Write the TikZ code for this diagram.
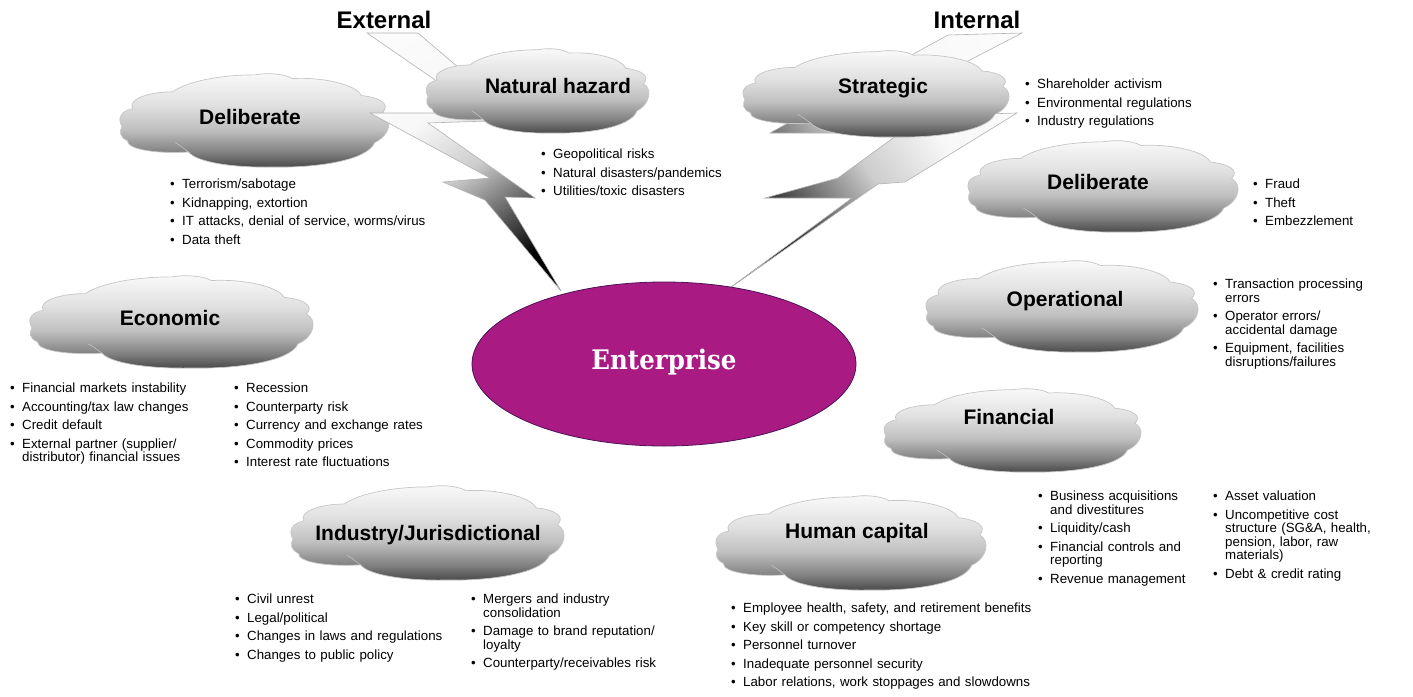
\documentclass[tikz,border=0pt]{standalone}
\usepackage{fontspec}
\setmainfont{Liberation Sans}
\newfontfamily\entfont{DejaVu Serif}
\usepackage{graphicx}
\usetikzlibrary{shapes.geometric}
\definecolor{entfill}{RGB}{169,27,131}
\definecolor{entline}{RGB}{75,18,90}
\definecolor{cloudline}{RGB}{198,198,198}
\pgfdeclareverticalshading{cloudsh}{100bp}{color(0bp)=(black!72); color(25bp)=(black!72); color(33bp)=(black!50); color(45bp)=(black!25); color(58bp)=(black!12); color(75bp)=(black!2); color(100bp)=(black!2)}
\pgfdeclareverticalshading{boltsh}{100bp}{color(0bp)=(black); color(25bp)=(black); color(36bp)=(black!62); color(48bp)=(black!20); color(62bp)=(black!3); color(100bp)=(white)}
\tikzset{
  cloudfill/.style={shade, shading=cloudsh, draw=cloudline, line width=0.7pt},
  crease/.style={draw=black!22, line width=0.5pt},
  bolt/.style={shade, shading=boltsh, draw=black!30, line width=0.6pt},
  ctitle/.style={font=\fontsize{21}{24}\selectfont\bfseries, inner sep=0pt},
  header/.style={font=\fontsize{24}{28}\selectfont\bfseries, inner sep=0pt},
  blist/.style={anchor=north west, inner sep=0pt, text width=#1, align=left,
    font=\fontsize{13.3}{13.5}\selectfont,
    execute at begin node={\setlength{\parskip}{5pt}}},
}
\newcommand\cloudat[4]{%
  \begin{scope}[shift={(#1,#2)}, x=#3pt, y=-#4pt]
    \path[cloudfill] (0,0.57)
      .. controls (-0.02,0.47) and (0.0,0.40) .. (0.04,0.38)
      .. controls (0.02,0.28) and (0.1,0.2) .. (0.19,0.2)
      .. controls (0.25,0.08) and (0.38,0.02) .. (0.5,0.02)
      .. controls (0.56,-0.01) and (0.62,0.02) .. (0.64,0.06)
      .. controls (0.75,0.04) and (0.88,0.12) .. (0.9,0.24)
      .. controls (0.97,0.26) and (1.01,0.33) .. (0.98,0.42)
      .. controls (1.02,0.48) and (1.01,0.66) .. (0.95,0.74)
      .. controls (0.92,0.94) and (0.72,1.01) .. (0.57,1.0)
      .. controls (0.42,1.01) and (0.28,0.95) .. (0.25,0.84)
      .. controls (0.14,0.86) and (0.02,0.82) .. (0.02,0.72)
      .. controls (-0.01,0.68) and (-0.01,0.62) .. (0,0.57) -- cycle;
    \path[crease] (0.25,0.84) .. controls (0.23,0.8) and (0.22,0.77) .. (0.2,0.74);
  \end{scope}}
\newcommand\bi[1]{\par\hangindent=12pt\hangafter=1\noindent\makebox[12pt][l]{\textbullet}#1\par}
\begin{document}
\begin{tikzpicture}[x=1pt, y=-1pt]
\useasboundingbox (0,0) rectangle (1413,696);
\fill[white] (0,0) rectangle (1413,696);

% clouds not touched by bolts
\cloudat{122}{73}{266}{94}
\cloudat{32}{275}{280}{93}
\cloudat{293}{485}{270}{95}
\cloudat{718}{495}{267}{95}
\cloudat{970}{140}{267}{92}
\cloudat{928}{260}{269}{92}
\cloudat{886}{388}{254}{84}

% lightning bolts
\path[bolt, shading angle=35] (367,33) -- (483,113) -- (370,113) -- (490,178) -- (443,182)
  -- (485,200) -- (561,291) -- (505,197) -- (535,198) -- (428,123) -- (520,120) -- (418,33) -- cycle;
\path[bolt, shading angle=-55] (948,35) -- (770,133) -- (900,133) -- (838,178) -- (765,198)
  -- (852,198) -- (727,290) -- (878,184) -- (905,182) -- (1017,113) -- (858,118) -- (1022,33) -- cycle;

% enterprise
\node[ellipse, draw=entline, fill=entfill, line width=0.8pt, inner sep=0pt,
  minimum width=384pt, minimum height=164pt] (ent) at (664,364) {};
\node[font=\entfont\bfseries\fontsize{24.5}{28}\selectfont, text=white, inner sep=0pt] (entlabel) at (664,362) {\scalebox{1}[1.1]{Enterprise}};

% clouds in front of bolts
\cloudat{428}{48}{220}{85}
\cloudat{745}{50}{263}{87}

% headers
\node[header] (ext) at (384,20) {External};
\node[header] (int) at (977,20) {Internal};

% cloud titles
\node[ctitle] (tDelL) at (250,117) {Deliberate};
\node[ctitle] (tNat) at (558,86) {Natural hazard};
\node[ctitle] (tStr) at (883,88) {Strategic};
\node[ctitle] (tDelR) at (1098,182) {Deliberate};
\node[ctitle] (tOpe) at (1065,301) {Operational};
\node[ctitle] (tFin) at (1009,417) {Financial};
\node[ctitle] (tEco) at (170,318) {Economic};
\node[ctitle] (tInd) at (428,535) {Industry/Jurisdictional};
\node[ctitle] (tHum) at (857,533) {Human capital};

% bullet lists
\node[blist=280pt] (lDelL) at (170,170) {\bi{Terrorism/sabotage}\bi{Kidnapping, extortion}\bi{IT attacks, denial of service, worms/virus}\bi{Data theft}};
\node[blist=220pt] (lNat) at (541,140) {\bi{Geopolitical risks}\bi{Natural disasters/pandemics}\bi{Utilities/toxic disasters}};
\node[blist=200pt] (lStr) at (1025,70) {\bi{Shareholder activism}\bi{Environmental regulations}\bi{Industry regulations}};
\node[blist=140pt] (lDelR) at (1253,170) {\bi{Fraud}\bi{Theft}\bi{Embezzlement}};
\node[blist=200pt] (lOpe) at (1213,270) {\bi{Transaction processing\newline errors}\bi{Operator errors/\newline accidental damage}\bi{Equipment, facilities\newline disruptions/failures}};
\node[blist=220pt] (lEco1) at (10,374) {\bi{Financial markets instability}\bi{Accounting/tax law changes}\bi{Credit default}\bi{External partner (supplier/\newline distributor) financial issues}};
\node[blist=220pt] (lEco2) at (234,374) {\bi{Recession}\bi{Counterparty risk}\bi{Currency and exchange rates}\bi{Commodity prices}\bi{Interest rate fluctuations}};
\node[blist=230pt] (lInd1) at (235,585) {\bi{Civil unrest}\bi{Legal/political}\bi{Changes in laws and regulations}\bi{Changes to public policy}};
\node[blist=230pt] (lInd2) at (471,585) {\bi{Mergers and industry\newline consolidation}\bi{Damage to brand reputation/\newline loyalty}\bi{Counterparty/receivables risk}};
\node[blist=320pt] (lHum) at (731,594) {\bi{Employee health, safety, and retirement benefits}\bi{Key skill or competency shortage}\bi{Personnel turnover}\bi{Inadequate personnel security}\bi{Labor relations, work stoppages and slowdowns}};
\node[blist=180pt] (lFin1) at (1038,482) {\bi{Business acquisitions\newline and divestitures}\bi{Liquidity/cash}\bi{Financial controls and\newline reporting}\bi{Revenue management}};
\node[blist=190pt] (lFin2) at (1213,482) {\bi{Asset valuation}\bi{Uncompetitive cost\newline structure (SG\&A, health,\newline pension, labor, raw\newline materials)}\bi{Debt \& credit rating}};
\end{tikzpicture}
\end{document}
